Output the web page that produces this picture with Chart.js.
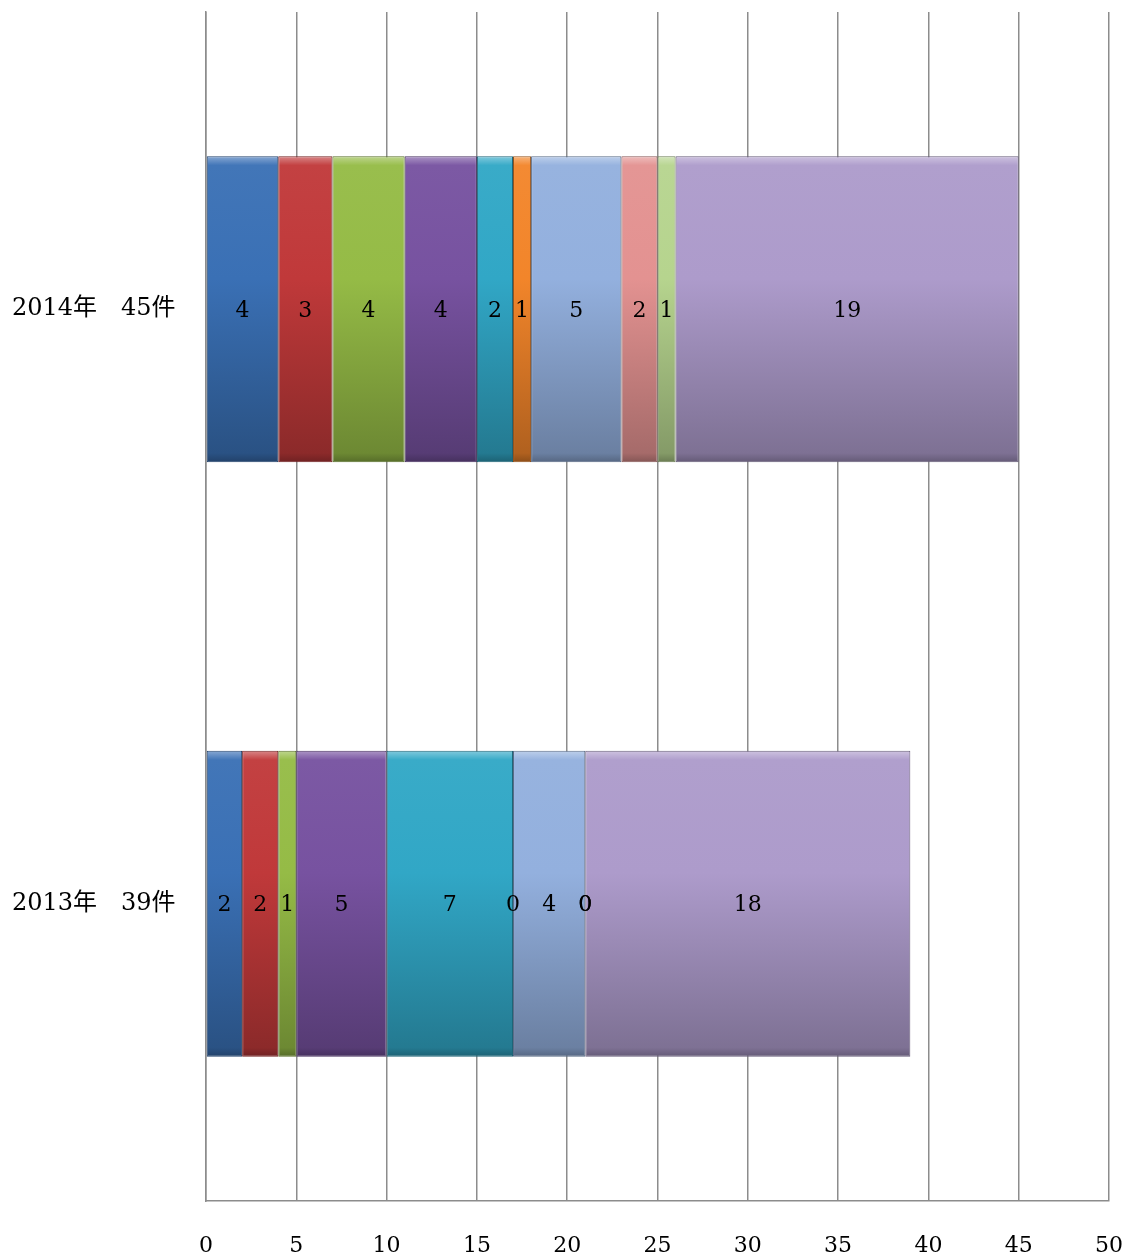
<!DOCTYPE html>
<html>
<head>
<meta charset="utf-8">
<script src="https://cdn.jsdelivr.net/npm/chart.js@4"></script>
<style>
  html, body { margin: 0; padding: 0; background: #fff; }
  #wrap { width: 1128px; height: 1256px; }
</style>
</head>
<body>
<div id="wrap"><canvas id="chart"></canvas></div>
<script>
// Categories (top to bottom)
const categories = ['2014年　45件', '2013年　39件'];

// Series values, one array per segment colour
const series1 = [4, 2];
const series2 = [3, 2];
const series3 = [4, 1];
const series4 = [4, 5];
const series5 = [2, 7];
const series6 = [1, 0];
const series7 = [5, 4];
const series8 = [2, 0];
const series9 = [1, 0];
const series10 = [19, 18];

const seriesList = [series1, series2, series3, series4, series5, series6, series7, series8, series9, series10];
const seriesColors = ['#3a70b5', '#c0393a', '#95bb46', '#7752a0', '#31a7c6', '#f2852a', '#93b0de', '#e39291', '#b6d48e', '#ad9bcb'];

const xTicks = [0, 5, 10, 15, 20, 25, 30, 35, 40, 45, 50];

const serifFont = '"DejaVu Serif", "Noto Sans CJK JP", serif';
const barPct = 0.515;

function shade(hex, f) {
    const n = parseInt(hex.slice(1), 16);
    let r = (n >> 16) & 255, g = (n >> 8) & 255, b = n & 255;
    if (f >= 0) {
        r = Math.round(r + (255 - r) * f);
        g = Math.round(g + (255 - g) * f);
        b = Math.round(b + (255 - b) * f);
    } else {
        r = Math.round(r * (1 + f));
        g = Math.round(g * (1 + f));
        b = Math.round(b * (1 + f));
    }
    return 'rgb(' + r + ',' + g + ',' + b + ')';
}

// Vertical gradient per bar, lighter at top, darker at bottom
function barFill(color) {
    return (context) => {
        const chart = context.chart;
        const yScale = chart.scales.y;
        if (!chart.chartArea || !yScale || context.dataIndex === undefined) return color;
        const cy = yScale.getPixelForValue(context.dataIndex);
        const half = (chart.chartArea.height / categories.length) * barPct / 2;
        const grad = chart.ctx.createLinearGradient(0, cy - half, 0, cy + half);
        grad.addColorStop(0, shade(color, 0.4));
        grad.addColorStop(0.03, shade(color, 0.04));
        grad.addColorStop(0.4, color);
        grad.addColorStop(0.97, shade(color, -0.27));
        grad.addColorStop(1, shade(color, -0.42));
        return grad;
    };
}

// Value labels centred in each segment
const segmentLabels = {
    id: 'segmentLabels',
    afterDatasetsDraw(chart) {
        const ctx = chart.ctx;
        ctx.save();
        ctx.font = '22px ' + serifFont;
        ctx.fillStyle = '#000';
        ctx.textAlign = 'center';
        ctx.textBaseline = 'middle';
        chart.data.datasets.forEach((ds, i) => {
            const meta = chart.getDatasetMeta(i);
            meta.data.forEach((bar, j) => {
                const x = (bar.x + bar.base) / 2;
                ctx.fillText(String(ds.data[j]), x, bar.y + 2);
            });
        });
        ctx.restore();
    }
};

const datasets = seriesList.map((vals, i) => ({
    label: 'series' + (i + 1),
    data: vals,
    backgroundColor: barFill(seriesColors[i]),
    borderColor: shade(seriesColors[i], -0.4),
    borderWidth: 1,
    borderSkipped: false,
    categoryPercentage: 1,
    barPercentage: barPct
}));

new Chart(document.getElementById('chart'), {
    type: 'bar',
    data: { labels: categories, datasets: datasets },
    options: {
        indexAxis: 'y',
        responsive: true,
        maintainAspectRatio: false,
        animation: false,
        layout: { padding: { left: 12, right: 19, top: 12, bottom: 0 } },
        plugins: {
            legend: { display: false },
            tooltip: { enabled: false }
        },
        scales: {
            x: {
                stacked: true,
                min: 0,
                max: 50,
                afterBuildTicks: (axis) => { axis.ticks = xTicks.map(v => ({ value: v })); },
                afterFit: (axis) => { axis.height = 55; axis.paddingRight = 0; axis.paddingLeft = 0; },
                grid: { color: '#8c8c8c', lineWidth: 1.5, drawTicks: false },
                border: { display: true, color: '#8c8c8c', width: 1.5 },
                ticks: {
                    color: '#000',
                    padding: 32,
                    font: { family: serifFont, size: 22 }
                }
            },
            y: {
                stacked: true,
                afterFit: (axis) => { axis.width = 194; axis.paddingTop = 0; axis.paddingBottom = 0; },
                grid: { display: false },
                border: { display: true, color: '#8c8c8c', width: 1.5 },
                ticks: {
                    color: '#000',
                    crossAlign: 'far',
                    padding: 0,
                    font: { family: serifFont, size: 24 }
                }
            }
        }
    },
    plugins: [segmentLabels]
});
</script>
</body>
</html>
